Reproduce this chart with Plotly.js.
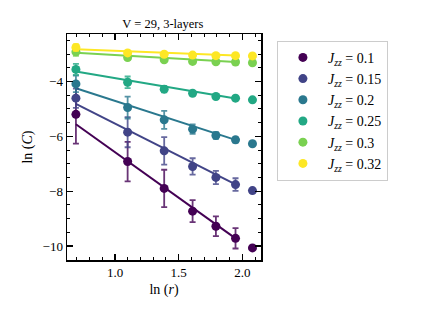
<!DOCTYPE html>
<html>
<head>
<meta charset="utf-8">
<script src="https://cdn.plot.ly/plotly-3.0.1.min.js"></script>
<style>html,body{margin:0;padding:0;background:#fff;}#chart{width:423px;height:317px;}</style>
</head>
<body>
<div id="chart"></div>
<script>
// ln(r) for r = 2..8
var lnR = [0.693, 1.099, 1.386, 1.609, 1.792, 1.946, 2.079];
var jzzLabels = ["0.1", "0.15", "0.2", "0.25", "0.3", "0.32"];
var colors = ["#440154", "#414487", "#2a788e", "#22a884", "#7ad151", "#fde725"];

// ln(C) values
var lnC_01  = [-5.20, -6.92, -7.90, -8.73, -9.28, -9.72, -10.07];
var lnC_015 = [-4.61, -5.85, -6.53, -7.10, -7.50, -7.76, -7.98];
var lnC_02  = [-4.09, -4.95, -5.40, -5.74, -5.97, -6.13, -6.27];
var lnC_025 = [-3.56, -4.03, -4.28, -4.43, -4.55, -4.61, -4.67];
var lnC_03  = [-2.92, -3.13, -3.21, -3.27, -3.28, -3.29, -3.32];
var lnC_032 = [-2.76, -2.96, -3.01, -3.04, -3.06, -3.06, -3.07];

// error bars (last point has none)
var err_01  = [1.07, 0.72, 0.68, 0.40, 0.36, 0.37, 0];
var err_015 = [0.35, 0.55, 0.50, 0.30, 0.24, 0.23, 0];
var err_02  = [0.30, 0.40, 0.33, 0.17, 0.12, 0.10, 0];
var err_025 = [0.20, 0.21, 0.12, 0.07, 0.06, 0.05, 0];
var err_03  = [0.15, 0.06, 0.05, 0.04, 0.03, 0.03, 0];
var err_032 = [0.12, 0.05, 0.04, 0.03, 0.03, 0.03, 0];

// fitted lines: x from ln2 to ln7
var fitX = [0.693, 1.946];
var fit_01  = [-5.56, -9.72];
var fit_015 = [-4.82, -7.75];
var fit_02  = [-4.25, -6.13];
var fit_025 = [-3.64, -4.62];
var fit_03  = [-2.95, -3.29];
var fit_032 = [-2.83, -3.05];

var series = [lnC_01, lnC_015, lnC_02, lnC_025, lnC_03, lnC_032];
var errs = [err_01, err_015, err_02, err_025, err_03, err_032];
var fits = [fit_01, fit_015, fit_02, fit_025, fit_03, fit_032];

function hexA(h, a) {
  var r = parseInt(h.substr(1,2),16), g = parseInt(h.substr(3,2),16), b = parseInt(h.substr(5,2),16);
  return "rgba(" + r + "," + g + "," + b + "," + a + ")";
}

var serif = "Liberation Serif, DejaVu Serif, serif";

var traces = [];
for (var i = 0; i < series.length; i++) {
  traces.push({
    x: fitX, y: fits[i], mode: "lines", type: "scatter",
    line: {color: colors[i], width: 2}, showlegend: false, hoverinfo: "skip"
  });
}
for (var i = 0; i < series.length; i++) {
  traces.push({
    x: lnR, y: series[i], mode: "markers", type: "scatter",
    name: "<i>J</i><sub><i>zz</i></sub> = " + jzzLabels[i],
    marker: {color: colors[i], size: 9},
    error_y: {type: "data", array: errs[i], visible: true, color: hexA(colors[i], 0.8), thickness: 1.8, width: 3}
  });
}

var axisCommon = {
  showline: true, linecolor: "#000", linewidth: 1.5, mirror: "allticks",
  ticks: "inside", ticklen: 6, tickwidth: 1.3, tickcolor: "#000",
  showgrid: false, zeroline: false,
  tickfont: {family: serif, size: 13, color: "#000"}
};

var layout = {
  width: 423, height: 317,
  margin: {l: 67, r: 162, t: 34, b: 57},
  paper_bgcolor: "#fff", plot_bgcolor: "#fff",
  font: {family: serif, color: "#000"},
  title: {text: "V = 29, 3-layers", x: 0.385, xanchor: "center", y: 0.925, yanchor: "middle",
          font: {family: serif, size: 12.5, color: "#000"}},
  xaxis: Object.assign({}, axisCommon, {
    range: [0.623, 2.146], tickvals: [1.0, 1.5, 2.0], ticktext: ["1.0", "1.5", "2.0"],
    minor: {dtick: 0.1, tick0: 0, ticks: "inside", ticklen: 3, tickwidth: 1, tickcolor: "#000", showgrid: false},
    title: {text: "ln (<i>r</i>)", standoff: 5, font: {family: serif, size: 14, color: "#000"}}
  }),
  yaxis: Object.assign({}, axisCommon, {
    range: [-10.51, -2.27], tickvals: [-10, -8, -6, -4], ticktext: ["\u221210", "\u22128", "\u22126", "\u22124"],
    minor: {dtick: 0.5, tick0: 0, ticks: "inside", ticklen: 3, tickwidth: 1, tickcolor: "#000", showgrid: false},
    title: {text: "ln (<i>C</i>)", standoff: 6, font: {family: serif, size: 14, color: "#000"}}
  }),
  legend: {
    x: 1.082, y: 0.97, xanchor: "left", yanchor: "top",
    bordercolor: "#cccccc", borderwidth: 1, bgcolor: "#fff",
    font: {family: serif, size: 14, color: "#000"},
    itemwidth: 40, tracegroupgap: 0
  },
  showlegend: true
};

Plotly.newPlot("chart", traces, layout, {displayModeBar: false, staticPlot: true});
</script>
</body>
</html>
